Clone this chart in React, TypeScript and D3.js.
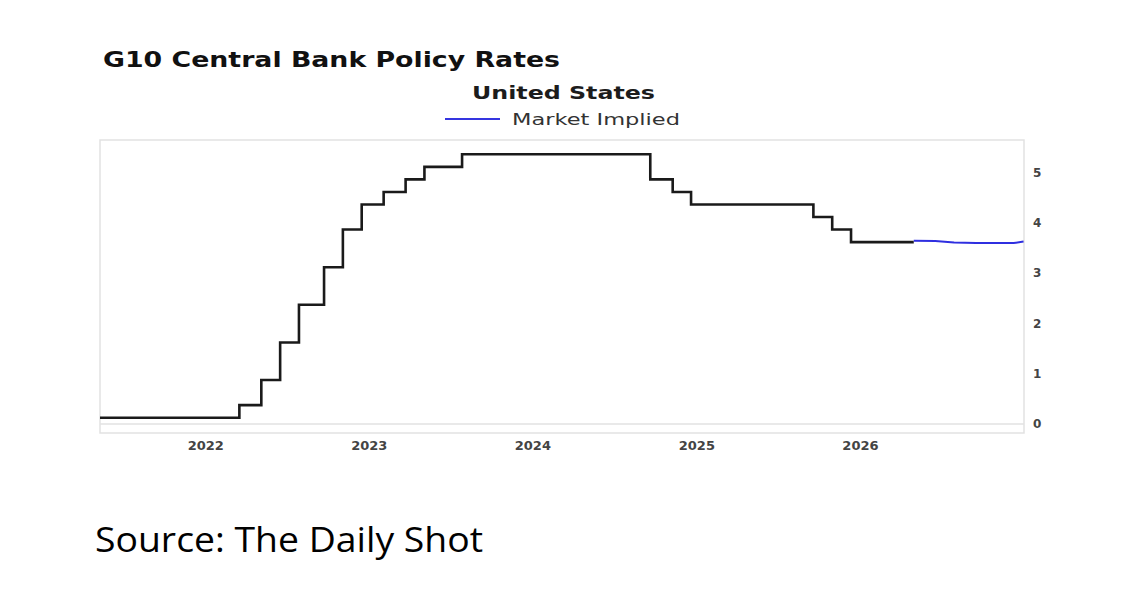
import React from 'react';
import { scaleTime, scaleLinear, line, curveStepAfter, curveLinear } from 'd3';

// Fed funds midpoint, step changes
const policyDates = [
  '2021-05-10', '2022-03-17', '2022-05-05', '2022-06-16', '2022-07-28',
  '2022-09-22', '2022-11-03', '2022-12-15', '2023-02-02', '2023-03-23',
  '2023-05-04', '2023-07-27', '2024-09-19', '2024-11-08', '2024-12-19',
  '2025-09-18', '2025-10-30', '2025-12-11', '2026-04-30',
];
const policyRates = [
  0.125, 0.375, 0.875, 1.625, 2.375,
  3.125, 3.875, 4.375, 4.625, 4.875,
  5.125, 5.375, 4.875, 4.625, 4.375,
  4.125, 3.875, 3.625, 3.625,
];

// market implied path
const impliedDates = ['2026-04-30', '2026-06-17', '2026-07-29', '2026-09-16', '2026-10-28', '2026-12-09', '2026-12-31'];
const impliedRates = [3.65, 3.645, 3.615, 3.605, 3.605, 3.605, 3.635];

const yearTicks = ['2022', '2023', '2024', '2025', '2026'];
const rateTicks = [0, 1, 2, 3, 4, 5];

const App = () => {
  const left = 100;
  const right = 1024;
  const top = 140;
  const bottom = 433;

  const x = scaleTime()
    .domain([new Date('2021-05-10'), new Date('2027-01-01')])
    .range([left, right]);
  const y = scaleLinear().domain([-0.18, 5.66]).range([bottom, top]);

  const policy = policyDates.map((d, i) => ({ date: new Date(d), value: policyRates[i] }));
  const implied = impliedDates.map((d, i) => ({ date: new Date(d), value: impliedRates[i] }));

  const stepLine = line<{ date: Date; value: number }>()
    .x((d) => x(d.date))
    .y((d) => y(d.value))
    .curve(curveStepAfter);
  const impliedLine = line<{ date: Date; value: number }>()
    .x((d) => x(d.date))
    .y((d) => y(d.value))
    .curve(curveLinear);

  const font = "'DejaVu Sans', sans-serif";

  return (
    <svg width={1141} height={603} style={{ position: 'absolute', left: 0, top: 0, background: '#fff' }}>
      <text x={103} y={67} fontFamily={font} fontWeight="bold" fontSize={21} fill="#111"
        textLength={457} lengthAdjust="spacingAndGlyphs">
        G10 Central Bank Policy Rates
      </text>
      <text x={472} y={99} fontFamily={font} fontWeight="bold" fontSize={18} fill="#1c1c1c"
        textLength={183} lengthAdjust="spacingAndGlyphs">
        United States
      </text>
      <line x1={445} x2={500} y1={119} y2={119} stroke="#3535e0" strokeWidth={2} />
      <text x={512} y={125} fontFamily={font} fontSize={16} fill="#333"
        textLength={168} lengthAdjust="spacingAndGlyphs">
        Market Implied
      </text>

      <rect x={left} y={top} width={right - left} height={bottom - top} fill="none" stroke="#e2e2e2" strokeWidth={1.5} />
      <line x1={left} x2={right} y1={y(0)} y2={y(0)} stroke="#e2e2e2" strokeWidth={1.5} />

      <path d={stepLine(policy) || ''} fill="none" stroke="#1a1a1a" strokeWidth={2.6} />
      <path d={impliedLine(implied) || ''} fill="none" stroke="#2f2fe0" strokeWidth={2} />

      {rateTicks.map((t) => (
        <text key={t} x={1033} y={y(t) + 4} fontFamily={font} fontSize={12} fontWeight="bold" fill="#444">
          {t}
        </text>
      ))}
      {yearTicks.map((t) => (
        <text key={t} x={x(new Date(`${t}-01-01`))} y={450} textAnchor="middle" fontFamily={font}
          fontSize={13} fontWeight="bold" fill="#444">
          {t}
        </text>
      ))}

      <text x={95} y={552} fontFamily="'Open Sans', sans-serif" fontSize={34} fill="#000"
        textLength={388} lengthAdjust="spacingAndGlyphs">
        Source: The Daily Shot
      </text>
    </svg>
  );
};

export default App;
